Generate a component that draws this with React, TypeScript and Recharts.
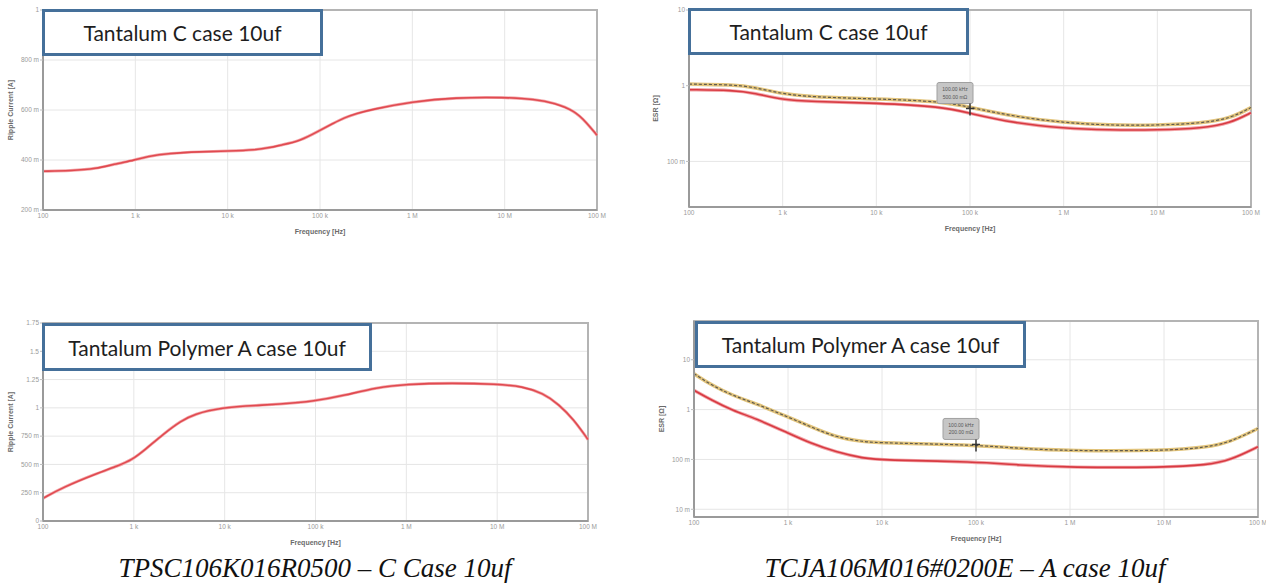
import React from "react";
import {
  CartesianGrid,
  Line,
  LineChart,
  ReferenceArea,
  ReferenceDot,
  XAxis,
  YAxis,
} from "recharts";

// shared frequency axis (log, 100 Hz .. 100 MHz)
const FREQ_TICKS = [1e2, 1e3, 1e4, 1e5, 1e6, 1e7, 1e8];
const FREQ_LABELS = ["100", "1 k", "10 k", "100 k", "1 M", "10 M", "100 M"];

// top left: ripple current, Tantalum C case
const rippleCFreq = [100, 200, 382, 578, 1000, 1330, 2370, 5000, 10000, 20000, 29000, 37000, 61000, 100000, 140000, 180000, 250000, 360000, 1e6, 2.9e6, 1e7, 2.1e7, 3.5e7, 5.7e7, 7.7e7, 1e8];
const rippleC = [0.355, 0.357, 0.365, 0.383, 0.4, 0.414, 0.427, 0.433, 0.436, 0.44, 0.45, 0.459, 0.476, 0.519, 0.547, 0.568, 0.586, 0.602, 0.633, 0.65, 0.651, 0.643, 0.628, 0.597, 0.55, 0.499];
const rippleCTicks = [0.2, 0.4, 0.6, 0.8, 1];
const rippleCLabels = ["200 m", "400 m", "600 m", "800 m", "1"];

// top right: ESR, Tantalum C case
const esrCFreq = [100, 300, 500, 1000, 2000, 10000, 50000, 100000, 300000, 1e6, 3e6, 1e7, 3e7, 6e7, 1e8];
const esrCLow = [0.885, 0.87, 0.8, 0.65, 0.62, 0.59, 0.53, 0.43, 0.32, 0.274, 0.26, 0.26, 0.274, 0.32, 0.44];
const esrCHigh = [1.05, 1.03, 0.95, 0.78, 0.71, 0.67, 0.62, 0.52, 0.39, 0.325, 0.3, 0.3, 0.32, 0.37, 0.515];
const esrCTicks = [0.1, 1, 10];
const esrCLabels = ["100 m", "1", "10"];

// bottom left: ripple current, Tantalum Polymer A case
const ripplePFreq = [100, 166, 381, 682, 951, 1330, 2200, 3300, 4600, 9000, 24300, 36700, 100000, 208000, 470000, 1e6, 3.2e6, 1e7, 1.9e7, 3.2e7, 4.8e7, 6.9e7, 1e8];
const rippleP = [0.2, 0.298, 0.417, 0.49, 0.54, 0.63, 0.78, 0.884, 0.944, 1.003, 1.024, 1.03, 1.06, 1.11, 1.18, 1.21, 1.22, 1.21, 1.19, 1.13, 1.03, 0.9, 0.72];
const ripplePTicks = [0, 0.25, 0.5, 0.75, 1, 1.25, 1.5, 1.75];
const ripplePLabels = ["0", "250 m", "500 m", "750 m", "1", "1.25", "1.5", "1.75"];

// bottom right: ESR, Tantalum Polymer A case
const esrPFreq = [100, 155, 254, 457, 1000, 1760, 3200, 6400, 10000, 100000, 285000, 1e6, 1e7, 2.85e7, 5.1e7, 1e8];
const esrPLow = [2.44, 1.54, 0.97, 0.66, 0.34, 0.21, 0.142, 0.105, 0.097, 0.09, 0.077, 0.069, 0.069, 0.077, 0.097, 0.18];
const esrPHigh = [5.25, 3.07, 1.94, 1.32, 0.71, 0.45, 0.28, 0.225, 0.215, 0.196, 0.166, 0.149, 0.149, 0.174, 0.225, 0.417];
const esrPTicks = [0.01, 0.1, 1, 10];
const esrPLabels = ["10 m", "100 m", "1", "10"];

const AXIS_GRAY = "#9a9a9a";
const TICK_STYLE = { fontSize: 6.5, fill: "#9a9a9a", fontFamily: "Liberation Sans, Arial, sans-serif" };
const LABEL_STYLE = { fontSize: 7, fill: "#6a6a6a", fontWeight: 600, fontFamily: "Liberation Sans, Arial, sans-serif" };

function lookup(ticks: number[], labels: string[]) {
  return (v: number) => {
    const i = ticks.findIndex((t) => Math.abs(t - v) < t * 1e-6 + 1e-9);
    return i >= 0 ? labels[i] : "";
  };
}

function rows(freq: number[], a: number[], b?: number[]) {
  return freq.map((f, i) => ({ f, a: a[i], b: b ? b[i] : undefined }));
}

// grey readout box + crosshair, as left on the screenshot
function Readout(props: any) {
  const { cx, cy, lines } = props;
  if (cx == null || cy == null) return null;
  return (
    <g>
      <rect x={cx - 33} y={cy - 26} width={36} height={21} rx={2} fill="#c6c6c6" stroke="#a0a0a0" />
      <text x={cx - 15} y={cy - 17.5} textAnchor="middle" fontSize={5} fill="#555" fontFamily="Liberation Sans, Arial">
        {lines[0]}
      </text>
      <text x={cx - 15} y={cy - 10} textAnchor="middle" fontSize={5} fill="#555" fontFamily="Liberation Sans, Arial">
        {lines[1]}
      </text>
      <line x1={cx} x2={cx} y1={cy - 5} y2={cy + 7} stroke="#333" strokeWidth={1.5} />
      <line x1={cx - 4} x2={cx + 4} y1={cy} y2={cy} stroke="#333" strokeWidth={1.5} />
    </g>
  );
}

type PanelProps = {
  left: number;
  top: number;
  width: number;
  height: number;
  yWidth: number;
  rightPad: number;
  labelOffset: number;
  data: any[];
  yLog: boolean;
  yDomain: [number, number];
  yTicks: number[];
  yLabels: string[];
  yTitle: string;
  esr: boolean;
  readout?: { f: number; v: number; lines: string[] };
};

function Panel(p: PanelProps) {
  return (
    <div style={{ position: "absolute", left: p.left, top: p.top }}>
      <LineChart
        width={p.width}
        height={p.height}
        data={p.data}
        margin={{ top: 10, right: p.rightPad, bottom: 0, left: 0 }}
      >
        <CartesianGrid stroke="#e6e6e6" strokeWidth={1} />
        <XAxis
          dataKey="f"
          type="number"
          scale="log"
          domain={[1e2, 1e8]}
          ticks={FREQ_TICKS}
          tickFormatter={lookup(FREQ_TICKS, FREQ_LABELS)}
          tick={TICK_STYLE}
          tickLine={false}
          tickSize={2}
          tickMargin={1}
          height={30}
          stroke={AXIS_GRAY}
          axisLine={{ stroke: AXIS_GRAY, strokeWidth: 2 }}
          interval={0}
          label={{ value: "Frequency [Hz]", position: "insideBottom", offset: 6, ...LABEL_STYLE }}
        />
        <YAxis
          type="number"
          scale={p.yLog ? "log" : "linear"}
          domain={p.yDomain}
          allowDataOverflow
          ticks={p.yTicks}
          tickFormatter={lookup(p.yTicks, p.yLabels)}
          tick={TICK_STYLE}
          tickLine={{ stroke: "#bdbdbd" }}
          tickSize={3}
          tickMargin={1}
          width={p.yWidth}
          axisLine={{ stroke: AXIS_GRAY, strokeWidth: 2 }}
          interval={0}
          label={{
            value: p.yTitle,
            angle: -90,
            position: "insideLeft",
            offset: p.labelOffset,
            style: { textAnchor: "middle" },
            ...LABEL_STYLE,
          }}
        />
        <ReferenceArea
          x1={1e2}
          x2={1e8}
          y1={p.yDomain[0]}
          y2={p.yDomain[1]}
          fill="none"
          stroke="#b4b4b4"
          strokeWidth={2}
          ifOverflow="visible"
        />
        {p.esr ? (
          <>
            <Line dataKey="b" type="basis" stroke="#e2c47c" strokeWidth={3.5} dot={false} isAnimationActive={false} />
            <Line dataKey="b" type="basis" stroke="#5f5a4e" strokeWidth={1.2} strokeDasharray="3 2" dot={false} isAnimationActive={false} />
            <Line dataKey="a" type="basis" stroke="#f2a5a8" strokeWidth={3.4} dot={false} isAnimationActive={false} />
            <Line dataKey="a" type="basis" stroke="#d83a42" strokeWidth={1.6} dot={false} isAnimationActive={false} />
          </>
        ) : (
          <>
            <Line dataKey="a" type="basis" stroke="#f3a7aa" strokeWidth={3} dot={false} isAnimationActive={false} />
            <Line dataKey="a" type="basis" stroke="#e04a50" strokeWidth={1.6} dot={false} isAnimationActive={false} />
          </>
        )}
        {p.readout ? (
          <ReferenceDot
            x={p.readout.f}
            y={p.readout.v}
            ifOverflow="visible"
            shape={(s: any) => <Readout {...s} lines={p.readout!.lines} />}
          />
        ) : null}
      </LineChart>
    </div>
  );
}

function TitleBox({ left, top, width, height, text }: { left: number; top: number; width: number; height: number; text: string }) {
  return (
    <div
      style={{
        position: "absolute",
        left,
        top,
        width,
        height,
        boxSizing: "border-box",
        border: "3px solid #45709a",
        background: "#fff",
        display: "flex",
        alignItems: "center",
        justifyContent: "center",
        fontFamily: "Lato, 'Open Sans', sans-serif",
        fontSize: 21,
        color: "#1e1e1e",
      }}
    >
      {text}
    </div>
  );
}

const captionStyle: React.CSSProperties = {
  position: "absolute",
  width: 620,
  textAlign: "center",
  fontFamily: "'Liberation Serif', 'Times New Roman', serif",
  fontStyle: "italic",
  fontSize: 27,
  lineHeight: "30px",
  color: "#111",
};

export default function App() {
  return (
    <div style={{ position: "absolute", left: 0, top: 0, width: 1268, height: 587, background: "#fff", overflow: "hidden" }}>
      <Panel
        left={0}
        top={0}
        width={610}
        height={240}
        yWidth={43}
        rightPad={13}
        labelOffset={11}
        data={rows(rippleCFreq, rippleC)}
        yLog={false}
        yDomain={[0.2, 1]}
        yTicks={rippleCTicks}
        yLabels={rippleCLabels}
        yTitle="Ripple Current [A]"
        esr={false}
      />
      <Panel
        left={640}
        top={0}
        width={623}
        height={237}
        yWidth={49}
        rightPad={12}
        labelOffset={16}
        data={rows(esrCFreq, esrCLow, esrCHigh)}
        yLog
        yDomain={[0.025, 10]}
        yTicks={esrCTicks}
        yLabels={esrCLabels}
        yTitle="ESR [Ω]"
        esr
        readout={{ f: 1e5, v: 0.5, lines: ["100.00 kHz", "500.00 mΩ"] }}
      />
      <Panel
        left={0}
        top={313}
        width={600}
        height={238}
        yWidth={43}
        rightPad={12}
        labelOffset={11}
        data={rows(ripplePFreq, rippleP)}
        yLog={false}
        yDomain={[0, 1.75]}
        yTicks={ripplePTicks}
        yLabels={ripplePLabels}
        yTitle="Ripple Current [A]"
        esr={false}
      />
      <Panel
        left={640}
        top={311}
        width={626}
        height={236}
        yWidth={54}
        rightPad={8}
        labelOffset={22}
        data={rows(esrPFreq, esrPLow, esrPHigh)}
        yLog
        yDomain={[0.007, 60]}
        yTicks={esrPTicks}
        yLabels={esrPLabels}
        yTitle="ESR [Ω]"
        esr
        readout={{ f: 1e5, v: 0.2, lines: ["100.00 kHz", "200.00 mΩ"] }}
      />

      <TitleBox left={42} top={9} width={281} height={47} text="Tantalum C case 10uf" />
      <TitleBox left={688} top={8} width={281} height={47} text="Tantalum C case 10uf" />
      <TitleBox left={42} top={323} width={330} height={48} text="Tantalum Polymer A case 10uf" />
      <TitleBox left={695} top={321} width={331} height={47} text="Tantalum Polymer A case 10uf" />

      <div style={{ ...captionStyle, left: 5, top: 553 }}>TPSC106K016R0500 – C Case 10uf</div>
      <div style={{ ...captionStyle, left: 655, top: 553 }}>TCJA106M016#0200E – A case 10uf</div>
    </div>
  );
}
